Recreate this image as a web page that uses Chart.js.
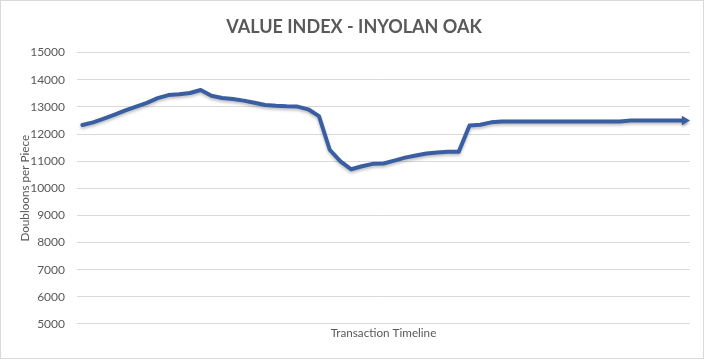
<!DOCTYPE html>
<html>
<head>
<meta charset="utf-8">
<script src="https://cdn.jsdelivr.net/npm/chart.js@4"></script>
<style>
  html, body { margin: 0; padding: 0; background: #fff; }
  .frame { position: relative; width: 702px; height: 357px; border: 1px solid #d9d9d9; }
  canvas { display: block; }
</style>
</head>
<body>
<div class="frame"><canvas id="chart" width="702" height="357"></canvas></div>
<script>
'use strict';
// ---------- Value index line chart ----------

const chartTitle = 'VALUE INDEX - INYOLAN OAK';
const xTitle = 'Transaction Timeline';
const yTitle = 'Doubloons per Piece';

// one entry per transaction, no labels shown on the axis
const prices = [
    12330, 12430, 12570, 12715, 12870, 13010, 13150, 13320, 13435, 13465,
    13510, 13620, 13410, 13330, 13290, 13230, 13150, 13070, 13040, 13020,
    13010, 12910, 12660, 11420, 10990, 10700, 10810, 10900, 10915, 11020,
    11130, 11210, 11280, 11320, 11345, 11345, 12310, 12340, 12430, 12460,
    12460, 12460, 12460, 12460, 12460, 12460, 12460, 12460, 12460, 12460,
    12460, 12500, 12500, 12500, 12500, 12500, 12500,
];
const timeline = prices.map((_, i) => String(i + 1));

const yMin = 5000;
const yMax = 15000;
const yStep = 1000;

const gray = '#595959';
const gridGray = '#d9d9d9';
const lineBlue = '#3a5ea2';

// arrow head only on the final point
const n = prices.length;
const pointStyles = prices.map((_, i) => i === n - 1 ? 'triangle' : 'circle');
const pointRadii  = prices.map((_, i) => i === n - 1 ? 5.5 : 0);

const lineShadow = {
    id: 'lineShadow',
    beforeDatasetDraw(chart) {
        const ctx = chart.ctx;
        ctx.save();
        ctx.shadowColor = 'rgba(0,0,0,0.25)';
        ctx.shadowBlur = 3;
        ctx.shadowOffsetY = 2;
    },
    afterDatasetDraw(chart) {
        chart.ctx.restore();
    },
};

new Chart(document.getElementById('chart'), {
    type: 'line',
    data: {
        labels: timeline,
        datasets: [{
            data: prices,
            borderColor: lineBlue,
            backgroundColor: lineBlue,
            borderWidth: 4,
            tension: 0,
            borderJoinStyle: 'round',
            borderCapStyle: 'round',
            pointStyle: pointStyles,
            pointRadius: pointRadii,
            pointRotation: 90,
            pointBorderWidth: 0,
            pointBackgroundColor: lineBlue,
        }],
    },
    options: {
        responsive: false,
        animation: false,
        layout: { padding: { left: 17, right: 13, top: 13, bottom: 18 } },
        plugins: {
            legend: { display: false },
            tooltip: { enabled: false },
            title: {
                display: true,
                text: chartTitle,
                color: gray,
                font: { family: 'Lato', size: 18, weight: 'bold' },
                padding: { top: 2, bottom: 15 },
            },
        },
        scales: {
            x: {
                offset: true,
                grid: { display: false },
                border: { display: false },
                ticks: { display: false },
                title: {
                    display: true,
                    text: xTitle,
                    color: gray,
                    font: { family: 'Lato', size: 11.7 },
                    padding: { top: -6, bottom: 0 },
                },
            },
            y: {
                min: yMin,
                max: yMax,
                afterFit: s => { s.width = 59; },
                ticks: {
                    stepSize: yStep,
                    color: gray,
                    font: { family: 'Lato', size: 12 },
                    padding: 12,
                    callback: v => String(v),
                },
                grid: { color: gridGray, lineWidth: 1, drawTicks: false },
                border: { display: false },
                title: {
                    display: true,
                    text: yTitle,
                    color: gray,
                    font: { family: 'Lato', size: 11.7 },
                    padding: { top: 0, bottom: 4 },
                },
            },
        },
    },
    plugins: [lineShadow],
});
</script>
</body>
</html>
